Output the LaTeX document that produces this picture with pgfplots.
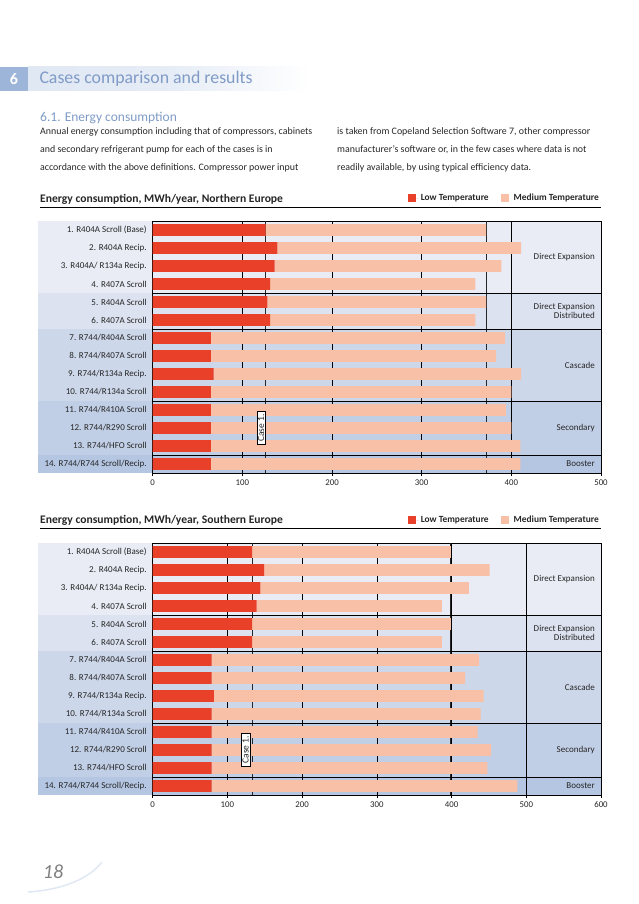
\documentclass[border=0pt]{standalone}
\usepackage{fontspec}
\setmainfont{Carlito}
\usepackage{pgfplots}
\pgfplotsset{compat=1.18}
\definecolor{lowT}{HTML}{E9402A}
\definecolor{medT}{HTML}{F8C0A6}
\definecolor{bandA}{HTML}{E9ECF5}
\definecolor{bandB}{HTML}{DCE2EF}
\definecolor{bandC}{HTML}{CDD7EA}
\definecolor{bandD}{HTML}{C1CFE6}
\definecolor{bandE}{HTML}{B4C6E2}
\definecolor{headblue}{HTML}{7F9BC6}
\definecolor{boxblue}{HTML}{9DB5D9}
\definecolor{headband}{HTML}{E0E8F4}
\definecolor{txt}{HTML}{262626}

\pgfplotsset{
  energy/.style={
    xbar stacked, scale only axis, width=448.3pt, height=252pt,
    anchor=south west,
    xmin=0, ymin=0.5, ymax=14.5, y dir=reverse,
    bar width=11.7pt,
    ytick={1,...,14},
    yticklabels={1. R404A Scroll (Base), 2. R404A Recip., 3. R404A/ R134a Recip., 4. R407A Scroll, 5. R404A Scroll, 6. R407A Scroll, 7. R744/R404A Scroll, 8. R744/R407A Scroll, 9. R744/R134a Recip., 10. R744/R134a Scroll, 11. R744/R410A Scroll, 12. R744/R290 Scroll, 13. R744/HFO Scroll, 14. R744/R744 Scroll/Recip.},
    y tick label style={font=\fontsize{9}{10}\selectfont, text=txt, xshift=-2.5pt},
    ytick style={draw=none},
    xtick pos=left, xtick align=outside, major tick length=3pt,
    xtick style={black, line width=0.6pt},
    x tick label style={font=\fontsize{8.8}{10}\selectfont, text=txt},
    /pgf/number format/assume math mode=true,
    xmajorgrids, major grid style={black, line width=0.6pt},
    axis line style={black, line width=0.8pt},
    legend columns=2,
    legend style={at={(1,1.0913)}, anchor=east, draw=none, fill=none, inner sep=0pt,
      font=\bfseries\fontsize{9.4}{10}\selectfont, text=txt,
      /tikz/every even column/.append style={column sep=10pt}},
    legend cell align=left,
  },
  lowstyle/.style={fill=lowT, draw=none, legend image code/.code={\fill[lowT] (0pt,-4pt) rectangle (8pt,4pt); \path (0pt,0pt) -- (11pt,0pt);}},
  medstyle/.style={fill=medT, draw=none, legend image code/.code={\fill[medT] (0pt,-4pt) rectangle (8pt,4pt); \path (0pt,0pt) -- (11pt,0pt);}},
}

\begin{document}
\begin{tikzpicture}
\begin{scope}[x=1pt,y=-1pt]
  \path (0,0) rectangle (638,904);
  % header
  \shade[left color=headband, right color=white, middle color=headband!80] (28,67) rectangle (310,91);
  \fill[boxblue] (0,67) rectangle (28,91);
  \node[text=white, font=\bfseries\fontsize{16}{18}\selectfont] at (14,79) {6};
  \node[anchor=base west, inner sep=0pt, text=headblue, font=\fontsize{17.8}{19}\selectfont] at (39.3,83.3) {Cases comparison and results};
  \node[anchor=base west, inner sep=0pt, text=headblue, font=\fontsize{13.5}{15}\selectfont] at (40,121.7) {6.1. Energy consumption};
  \begin{scope}[every node/.style={anchor=base west, inner sep=0pt, text=txt, font=\fontsize{9.9}{11}\selectfont}]
    \node at (40,134.5) {Annual energy consumption including that of compressors, cabinets};
    \node at (40,152.5) {and secondary refrigerant pump for each of the cases is in};
    \node at (40,170.5) {accordance with the above definitions. Compressor power input};
    \node at (337,134.5) {is taken from Copeland Selection Software 7, other compressor};
    \node at (337,152.5) {manufacturer's software or, in the few cases where data is not};
    \node at (337,170.5) {readily available, by using typical efficiency data.};
  \end{scope}
  % chart titles
  \node[anchor=base west, inner sep=0pt, text=txt, font=\bfseries\fontsize{11.6}{13}\selectfont] at (40,202) {Energy consumption, MWh/year, Northern Europe};
  \draw[black, line width=0.8pt] (40,207.7) -- (601,207.7);
  \node[anchor=base west, inner sep=0pt, text=txt, font=\bfseries\fontsize{11.6}{13}\selectfont] at (40,523.8) {Energy consumption, MWh/year, Southern Europe};
  \draw[black, line width=0.8pt] (40,528) -- (601,528);
  % bands chart 1
  \fill[bandA] (38.3,221) rectangle (601,293);
  \fill[bandB] (38.3,293) rectangle (601,329);
  \fill[bandC] (38.3,329) rectangle (601,401);
  \fill[bandD] (38.3,401) rectangle (601,455);
  \fill[bandE] (38.3,455) rectangle (601,473);
  % bands chart 2
  \fill[bandA] (38.3,543) rectangle (601,615);
  \fill[bandB] (38.3,615) rectangle (601,651);
  \fill[bandC] (38.3,651) rectangle (601,723);
  \fill[bandD] (38.3,723) rectangle (601,777);
  \fill[bandE] (38.3,777) rectangle (601,795);
  % page number
  \draw[color=headband, line width=1.5pt] (28,892) .. controls (60,890) and (88,880) .. (102,862);
  \node[text=black!50, font=\itshape\fontsize{20}{22}\selectfont] at (53,872) {18};
\end{scope}

% ---------- Chart 1 ----------
\begin{axis}[energy, at={(152.7pt,-473pt)}, xmax=500, xtick={0,100,...,500}]
\addplot[lowstyle] coordinates {(126,1) (139,2) (136,3) (131,4) (128,5) (131,6) (65,7) (65,8) (68,9) (65,10) (65,11) (65,12) (65,13) (65,14)};
\addplot[medstyle] coordinates {(246,1) (272,2) (253,3) (229,4) (244,5) (229,6) (328,7) (318,8) (343,9) (335,10) (329,11) (335,12) (345,13) (345,14)};
\legend{Low Temperature, Medium Temperature}
\draw[black, line width=0.8pt] (axis cs:0,4.5) -- (axis cs:500,4.5);
\draw[black, line width=0.8pt] (axis cs:0,6.5) -- (axis cs:500,6.5);
\draw[black, line width=0.8pt] (axis cs:0,10.5) -- (axis cs:500,10.5);
\draw[black, line width=0.8pt] (axis cs:0,13.5) -- (axis cs:500,13.5);
\draw[black!85, line width=0.9pt] (axis cs:126,0.5) -- (axis cs:126,14.5);
\draw[black!85, line width=0.9pt] (axis cs:372,0.5) -- (axis cs:372,14.5);
\end{axis}

% ---------- Chart 2 ----------
\begin{axis}[energy, at={(152.7pt,-795pt)}, xmax=600, xtick={0,100,...,600}]
\addplot[lowstyle] coordinates {(133,1) (149,2) (144,3) (139,4) (133,5) (133,6) (79,7) (79,8) (82,9) (79,10) (79,11) (79,12) (79,13) (79,14)};
\addplot[medstyle] coordinates {(266,1) (302,2) (279,3) (248,4) (266,5) (254,6) (358,7) (339,8) (361,9) (360,10) (356,11) (374,12) (369,13) (409,14)};
\legend{Low Temperature, Medium Temperature}
\draw[black, line width=0.8pt] (axis cs:0,4.5) -- (axis cs:600,4.5);
\draw[black, line width=0.8pt] (axis cs:0,6.5) -- (axis cs:600,6.5);
\draw[black, line width=0.8pt] (axis cs:0,10.5) -- (axis cs:600,10.5);
\draw[black, line width=0.8pt] (axis cs:0,13.5) -- (axis cs:600,13.5);
\draw[black!85, line width=0.9pt] (axis cs:133,0.5) -- (axis cs:133,14.5);
\draw[black!85, line width=0.9pt] (axis cs:399,0.5) -- (axis cs:399,14.5);
\end{axis}

\begin{scope}[x=1pt,y=-1pt]
  \begin{scope}[every node/.style={anchor=east, align=right, inner sep=0pt, text=txt, font=\fontsize{9}{9.2}\selectfont}]
    \node at (595,257) {Direct Expansion};
    \node at (595,311) {Direct Expansion\\Distributed};
    \node at (595,365) {Cascade};
    \node at (595,428) {Secondary};
    \node at (595,464) {Booster};
    \node at (595,579) {Direct Expansion};
    \node at (595,633) {Direct Expansion\\Distributed};
    \node at (595,687) {Cascade};
    \node at (595,750) {Secondary};
    \node at (595,786) {Booster};
  \end{scope}
  \node[draw=black, line width=0.6pt, fill=white, rotate=90, inner xsep=2.5pt, inner ysep=1pt, text=txt, font=\fontsize{9.5}{10}\selectfont] at (261,428) {Case 1.};
  \node[draw=black, line width=0.6pt, fill=white, rotate=90, inner xsep=2.5pt, inner ysep=1pt, text=txt, font=\fontsize{9.5}{10}\selectfont] at (245.7,749.7) {Case 1.};
\end{scope}
\end{tikzpicture}
\end{document}
